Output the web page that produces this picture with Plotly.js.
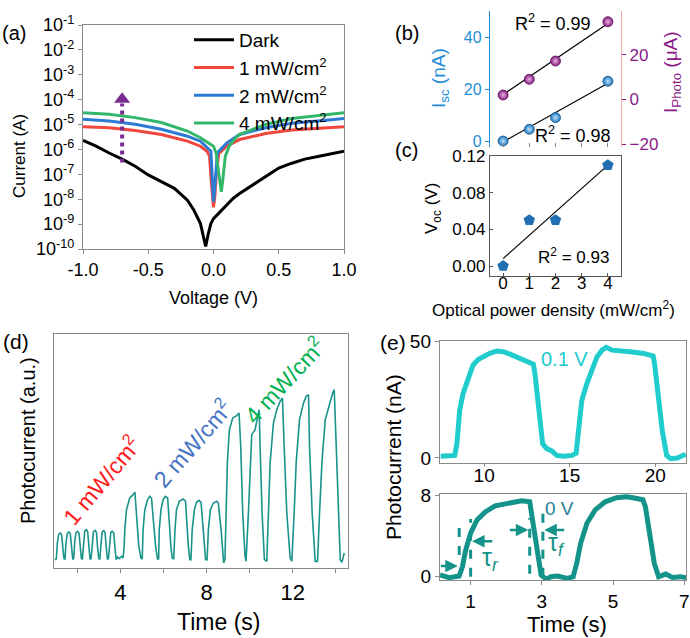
<!DOCTYPE html>
<html><head><meta charset="utf-8">
<script src="https://cdn.plot.ly/plotly-3.0.1.min.js"></script>
<style>html,body{margin:0;padding:0;background:#fff}#plot{width:690px;height:638px}</style>
</head><body><div id="plot"></div>
<script>
// ---------- (a) I-V curves ----------
const vDark = [-1.0,-0.9,-0.8,-0.7,-0.6,-0.5,-0.4,-0.3,-0.2,-0.15,-0.1,-0.08,-0.06,-0.04,-0.02,0,0.05,0.1,0.15,0.2,0.3,0.4,0.5,0.6,0.7,0.8,0.9,1.0];
const iDark = [2.3e-6,1.35e-6,7.2e-7,4.1e-7,2.1e-7,9.5e-8,5.1e-8,2.75e-8,9.1e-9,3.6e-9,1.05e-9,4.1e-10,1.26e-10,4.1e-10,1.05e-9,1.66e-9,3.1e-9,5.75e-9,1.07e-8,1.7e-8,3.7e-8,8.1e-8,1.78e-7,2.8e-7,4.1e-7,5.25e-7,6.8e-7,8.5e-7];
const v1 = [-1,-0.8,-0.6,-0.4,-0.2,-0.1,-0.05,-0.03,-0.02,-0.01,0,0.01,0.02,0.04,0.1,0.2,0.4,0.6,0.8,1.0];
const i1 = [8.1e-6,7.4e-6,5.75e-6,4.0e-6,2.15e-6,1.35e-6,8.5e-7,5.25e-7,8.1e-8,1.7e-8,4.7e-9,1.26e-8,8.1e-8,6.8e-7,1.35e-6,2.5e-6,4.4e-6,6.0e-6,7.1e-6,8.1e-6];
const v2 = [-1,-0.8,-0.6,-0.4,-0.2,-0.1,-0.02,-0.01,0,0.01,0.02,0.03,0.1,0.2,0.4,0.6,0.8,1.0];
const i2 = [1.62e-5,1.38e-5,1.02e-5,6.5e-6,3.4e-6,2.15e-6,8.5e-7,1.12e-7,7.9e-9,3.2e-8,2.1e-7,7.2e-7,1.8e-6,4.0e-6,7.4e-6,1.12e-5,1.38e-5,1.74e-5];
const v4 = [-1,-0.8,-0.6,-0.4,-0.2,-0.1,0,0.02,0.04,0.06,0.07,0.09,0.12,0.17,0.2,0.4,0.6,0.8,1.0];
const i4 = [3.0e-5,2.57e-5,1.9e-5,1.2e-5,5.5e-6,2.95e-6,1.35e-6,7.2e-7,1.12e-7,2.0e-8,5.1e-8,5.25e-7,1.35e-6,2.95e-6,4.0e-6,1.02e-5,1.74e-5,2.34e-5,3.0e-5];
const seriesNames = ['Dark','1 mW/cm<sup>2</sup>','2 mW/cm<sup>2</sup>','4 mW/cm<sup>2</sup>'];
const logTickVals = [1e-10,1e-9,1e-8,1e-7,1e-6,1e-5,1e-4,1e-3,1e-2,1e-1];
const logTickText = ['10<sup>-10</sup>','10<sup>-9</sup>','10<sup>-8</sup>','10<sup>-7</sup>','10<sup>-6</sup>','10<sup>-5</sup>','10<sup>-4</sup>','10<sup>-3</sup>','10<sup>-2</sup>','10<sup>-1</sup>'];
const vTickVals = [-1,-0.5,0,0.5,1];
const vTickText = ['-1.0','-0.5','0.0','0.5','1.0'];

// ---------- (b) Isc, Iphoto ; (c) Voc ----------
const power = [0,1,2,4];
const isc = [0,4.5,9,23];
const iphoto = [2,9,17.2,34.8];
const fitX = [0,4];
const iscFit = [-0.3,22.2];
const iphotoFit = [2.2,34.0];
const voc = [0,0.05,0.05,0.11];
const vocFit = [0.008,0.11];

// ---------- (d) photocurrent vs time ----------
const tD = [0.95,
1.023,1.07,1.132,1.209,1.271,1.333,1.38,
1.426,1.473,1.535,1.612,1.674,1.736,1.783,
1.829,1.876,1.938,2.015,2.077,2.139,2.186,
2.233,2.28,2.342,2.419,2.481,2.543,2.59,
2.636,2.683,2.745,2.822,2.884,2.946,2.993,
3.039,3.086,3.148,3.225,3.287,3.349,3.396,
3.442,3.489,3.551,3.628,3.69,3.752,3.80,
3.87,3.95,4.05,4.12,
4.17,4.20,4.28,4.43,4.59,4.67,4.74,4.85,4.95,
5.01,5.05,5.13,5.26,5.36,5.44,5.52,5.63,5.72,
5.77,5.80,5.88,5.98,6.09,6.19,6.25,6.34,6.40,
6.47,6.53,6.60,6.73,6.84,6.91,7.02,7.07,7.15,7.22,
7.27,7.33,7.43,7.53,7.64,7.74,7.80,7.89,7.95,
8.02,8.08,8.17,8.31,8.47,8.54,8.67,8.73,8.79,8.85,
8.899,8.961,9.054,9.209,9.395,9.504,9.581,9.674,9.783,9.829,
9.938,10.015,10.093,10.248,10.356,10.434,10.48,10.573,10.682,10.79,
10.868,10.945,11.1,11.255,11.41,11.519,11.596,11.72,11.875,11.953,
12.061,12.154,12.309,12.495,12.619,12.728,12.774,12.898,13.038,
13.146,13.239,13.348,13.503,13.704,13.859,13.921,13.983,14.076,14.2,14.278,14.387];
const iD = [1.0,
1.2,6,8.6,9.0,8.4,4,1.3,
1.2,6.2,8.9,9.3,8.7,4,1.2,
1.3,6.3,9.1,9.5,8.9,4.2,1.3,
1.2,6.5,9.6,10.0,9.3,4.3,1.2,
1.3,6.4,9.4,9.8,9.2,4.1,1.3,
1.2,6.3,9.3,9.7,9.1,4,1.2,
1.3,6.2,9.2,9.5,8.9,4,1.0,
1.8,1.3,2.0,1.5,
5,10,16,19.5,20.5,21.2,15,5,1.5,
1.2,10,16,19,20,19.5,13,5,1.2,
1.2,10,16,19,20,19.5,13,5,1.5,
1.2,10,16,18.5,19,19.2,18.5,13,5,1,
1,10,16,18.2,18.8,18.2,13,5,1,
1,10,16,18,18.5,18,10,5,0,1.2,
15,30,40,43.5,44.2,45,35,15,2,0.5,
15,30,38.5,40,44,46,35,15,1,0.5,
15,30,42,46,48.5,49.5,35,15,1.5,0.5,
15,30,43,48,50,50.5,35,15,0.5,
0.5,15,30,43,48,51.2,52,40,20,1,0.2,3];
const dTickVals = [2,4,6,8,10,12,14];
const dTickText = ['','4','','8','','12',''];

// ---------- (e) response at 0.1 V and 0 V ----------
const tE1 = [7.46,8.28,8.41,8.57,8.77,9.06,9.35,9.65,9.94,10.33,10.72,11.12,11.51,12.0,12.49,12.88,12.97,13.11,13.27,13.42,13.66,13.95,14.25,14.64,15.13,15.38,15.52,15.71,16.01,16.3,16.6,16.89,17.14,17.48,17.96,18.55,19.33,19.88,19.96,20.16,20.41,20.67,20.9,21.29,21.78];
const iE1 = [0.7,1.1,6.1,20.4,27.6,34,39.7,42.1,43.3,44.7,45.7,45.4,44.4,43,41.6,40.1,36.1,26.1,14.7,6.1,4,3,1.1,0.7,1.1,2.1,11.9,24.7,31.9,38.3,43.3,46.1,47.3,46.1,45.9,45.4,44.7,43.6,40.4,26.1,11.9,1.1,-0.3,0,1.6];
const tE2 = [0.14,0.40,0.68,0.77,0.86,1.0,1.18,1.41,1.69,2.06,2.43,2.66,2.71,2.80,2.89,2.98,3.12,3.26,3.44,3.72,3.88,3.98,4.09,4.27,4.50,4.78,5.10,5.38,5.56,5.84,5.91,6.02,6.16,6.28,6.48,6.67,6.90,7.05];
const iE2 = [0.17,-0.1,0.07,1,2.6,4.3,5.6,6.4,7.0,7.3,7.5,7.4,6.3,4,1.65,0.17,-0.26,0,0.07,-0.17,0,1.3,3.3,5.3,6.6,7.4,7.8,7.9,7.8,7.6,6.9,4.3,1.3,0,0.26,-0.07,0,-0.1];

// ---------- traces ----------
const ivColors = ['#000000','#f0463c','#2b7bd4','#33b86b'];
const traces = [
  {x:vDark,y:iDark,name:seriesNames[0],mode:'lines',line:{color:ivColors[0],width:3},xaxis:'x',yaxis:'y'},
  {x:v1,y:i1,name:seriesNames[1],mode:'lines',line:{color:ivColors[1],width:3},xaxis:'x',yaxis:'y'},
  {x:v2,y:i2,name:seriesNames[2],mode:'lines',line:{color:ivColors[2],width:3},xaxis:'x',yaxis:'y'},
  {x:v4,y:i4,name:seriesNames[3],mode:'lines',line:{color:ivColors[3],width:3},xaxis:'x',yaxis:'y'},
  // arrow in (a)
  {x:[-0.7,-0.7],y:[3.0e-7,7.0e-5],mode:'lines',line:{color:'#7a2d90',width:4,dash:'dot'},showlegend:false,xaxis:'x',yaxis:'y',hoverinfo:'skip'},
  {x:[-0.7],y:[1.05e-4],mode:'markers',marker:{symbol:'triangle-up',size:14,color:'#7a2d90'},showlegend:false,xaxis:'x',yaxis:'y',hoverinfo:'skip'},
  // (b)
  {x:fitX,y:iscFit,mode:'lines',line:{color:'#000',width:1.2},showlegend:false,xaxis:'x2',yaxis:'y2'},
  {x:power,y:isc,mode:'markers',marker:{size:10,color:'#1f78c0',gradient:{type:'radial',color:'#bfe2fb'},line:{color:'#17588c',width:0.8}},showlegend:false,xaxis:'x2',yaxis:'y2'},
  {x:fitX,y:iphotoFit,mode:'lines',line:{color:'#000',width:1.2},showlegend:false,xaxis:'x2',yaxis:'y3'},
  {x:power,y:iphoto,mode:'markers',marker:{size:10,color:'#861a7e',gradient:{type:'radial',color:'#e7b5e3'},line:{color:'#5e1058',width:0.8}},showlegend:false,xaxis:'x2',yaxis:'y3'},
  // (c)
  {x:fitX,y:vocFit,mode:'lines',line:{color:'#000',width:1.2},showlegend:false,xaxis:'x4',yaxis:'y4'},
  {x:power,y:voc,mode:'markers',marker:{symbol:'pentagon',size:12,color:'#1f6fb2'},showlegend:false,xaxis:'x4',yaxis:'y4'},
  // (d)
  {x:tD,y:iD,mode:'lines',line:{color:'#1a938a',width:1.6},showlegend:false,xaxis:'x5',yaxis:'y5'},
  // (e)
  {x:tE1,y:iE1,mode:'lines',line:{color:'#20cccc',width:5},showlegend:false,xaxis:'x6',yaxis:'y6'},
  {x:tE2,y:iE2,mode:'lines',line:{color:'#14938a',width:5},showlegend:false,xaxis:'x7',yaxis:'y7'}
];

const FONT = 'Liberation Sans, Arial, sans-serif';
const GREY = '#8a8a8a';
function ax(extra){
  return Object.assign({showline:true,linecolor:GREY,linewidth:1.2,mirror:true,ticks:'outside',ticklen:4,tickcolor:GREY,
    showgrid:false,zeroline:false,tickfont:{size:16,color:'#000',family:FONT},fixedrange:true}, extra);
}
const tf = s => ({size:s,color:'#000',family:FONT});
const px = v => v/690, py = v => 1 - v/638;

const teal = '#14938a';
const annotations = [
  // panel labels
  {text:'(a)',x:px(14),y:py(33),font:{size:20}},
  {text:'(b)',x:px(407),y:py(33),font:{size:20}},
  {text:'(c)',x:px(406),y:py(150),font:{size:20}},
  {text:'(d)',x:px(16),y:py(341),font:{size:21}},
  {text:'(e)',x:px(393),y:py(342),font:{size:21}},
  // axis titles
  {text:'Current (A)',x:px(20),y:py(156),textangle:-90,font:{size:17}},
  {text:'Voltage (V)',x:px(213),y:py(298),font:{size:18}},
  {text:'I<sub>sc</sub> (nA)',x:px(440),y:py(78),textangle:-90,font:{size:19,color:'#1f8dd6'}},
  {text:'I<sub>Photo</sub> (μA)',x:px(672),y:py(72),textangle:-90,font:{size:19,color:'#8b1a89'}},
  {text:'V<sub>oc</sub> (V)',x:px(433),y:py(209),textangle:-90,font:{size:17}},
  {text:'Optical power density (mW/cm<sup>2</sup>)',x:px(553),y:py(309),font:{size:17}},
  {text:'Photocurrent (a.u.)',x:px(28),y:py(441),textangle:-90,font:{size:20}},
  {text:'Time (s)',x:px(218),y:py(622),font:{size:23}},
  {text:'Photocurrent (nA)',x:px(393),y:py(457),textangle:-90,font:{size:21}},
  {text:'Time (s)',x:px(567),y:py(624),font:{size:22}},
  // R2
  {text:'R<sup>2</sup> = 0.99',x:1.89,y:45.4,xref:'x2',yref:'y2',font:{size:18}},
  {text:'R<sup>2</sup> = 0.98',x:2.68,y:2.4,xref:'x2',yref:'y2',font:{size:18}},
  {text:'R<sup>2</sup> = 0.93',x:2.68,y:0.011,xref:'x4',yref:'y4',font:{size:17}},
  // (d) labels
  {text:'1 mW/cm<sup>2</sup>',x:px(101),y:py(480),textangle:-50,font:{size:23,color:'#ff1a1a'}},
  {text:'2 mW/cm<sup>2</sup>',x:px(192),y:py(443),textangle:-49,font:{size:23,color:'#4472c4'}},
  {text:'4 mW/cm<sup>2</sup>',x:px(284),y:py(380),textangle:-47,font:{size:23,color:'#00b050'}},
  // (e)
  {text:'0.1 V',x:14.68,y:42.3,xref:'x6',yref:'y6',font:{size:20,color:'#20cccc'}},
  {text:'0 V',x:3.49,y:6.7,xref:'x7',yref:'y7',font:{size:19,color:'#2a7f95'}},
  {text:'τ<sub><i>r</i></sub>',x:1.55,y:1.7,xref:'x7',yref:'y7',font:{size:25,color:teal}},
  {text:'τ<sub><i>f</i></sub>',x:3.42,y:3.2,xref:'x7',yref:'y7',font:{size:25,color:teal}},
  // arrows
  {text:'',x:0.64,y:1.06,ax:0.12,ay:1.06,axref:'x7',ayref:'y7',xref:'x7',yref:'y7',showarrow:true,arrowhead:2,arrowsize:1,arrowwidth:2.5,arrowcolor:teal},
  {text:'',x:1.04,y:3.5,ax:1.65,ay:3.5,axref:'x7',ayref:'y7',xref:'x7',yref:'y7',showarrow:true,arrowhead:2,arrowsize:1,arrowwidth:2.5,arrowcolor:teal},
  {text:'',x:2.62,y:4.6,ax:2.06,ay:4.6,axref:'x7',ayref:'y7',xref:'x7',yref:'y7',showarrow:true,arrowhead:2,arrowsize:1,arrowwidth:2.5,arrowcolor:teal},
  {text:'',x:3.07,y:4.6,ax:3.67,ay:4.6,axref:'x7',ayref:'y7',xref:'x7',yref:'y7',showarrow:true,arrowhead:2,arrowsize:1,arrowwidth:2.5,arrowcolor:teal}
].map(a => Object.assign({xref:'paper',yref:'paper',showarrow:false,xanchor:'center',yanchor:'middle'}, a,
   {font:Object.assign({family:FONT,color:'#000'}, a.font)}));

const dash = {color:teal,width:3,dash:'dash'};
const shapes = [
  {type:'line',xref:'x7',yref:'y7',x0:0.68,x1:0.68,y0:2.15,y1:5.5,line:dash},
  {type:'line',xref:'x7',yref:'y7',x0:1.0,x1:1.0,y0:0,y1:5.7,line:dash},
  {type:'line',xref:'x7',yref:'y7',x0:2.66,x1:2.66,y0:0.3,y1:5.8,line:dash},
  {type:'line',xref:'x7',yref:'y7',x0:3.03,x1:3.03,y0:0,y1:6.3,line:dash}
];

const layout = {
  width:690,height:638,margin:{l:0,r:0,t:0,b:0},
  paper_bgcolor:'#fff',plot_bgcolor:'rgba(0,0,0,0)',
  font:{family:FONT,color:'#000'},
  showlegend:true,
  legend:{x:px(189),y:py(21),xanchor:'left',yanchor:'top',bgcolor:'rgba(0,0,0,0)',font:{size:19,family:FONT},tracegroupgap:0,itemwidth:40},
  xaxis:ax({domain:[px(83),px(344)],anchor:'y',range:[-1,1],tickvals:vTickVals,ticktext:vTickText,tickfont:tf(18)}),
  yaxis:ax({domain:[py(249),py(25)],anchor:'x',type:'log',range:[-10,-1],tickvals:logTickVals,ticktext:logTickText,tickfont:tf(18)}),
  xaxis2:ax({domain:[px(490),px(621)],anchor:'y2',range:[-0.5,4.5],tickvals:[0,1,2,3,4],showticklabels:false,showline:false,mirror:false,ticks:'inside'}),
  yaxis2:ax({domain:[py(147),py(11)],anchor:'x2',range:[-2.3,50],tickvals:[0,20,40],mirror:false,linecolor:'#1f8dd6',tickcolor:'#1f8dd6',tickfont:{size:16,color:'#1f8dd6',family:FONT}}),
  yaxis3:ax({overlaying:'y2',side:'right',anchor:'x2',range:[-21.3,39.6],tickvals:[-20,0,20,40],mirror:false,linecolor:'#f4a9a0',tickcolor:'#8b1a89',tickfont:{size:17,color:'#8b1a89',family:FONT}}),
  xaxis4:ax({domain:[px(490),px(621)],anchor:'y4',range:[-0.5,4.5],tickvals:[0,1,2,3,4],linecolor:'#555',tickcolor:'#555',ticks:'inside',ticklen:3,ticklabelstandoff:-9,tickfont:tf(17)}),
  yaxis4:ax({domain:[py(276),py(156)],anchor:'x4',range:[-0.0109,0.12],tickvals:[0,0.04,0.08,0.12],ticktext:['0.00','0.04','0.08','0.12'],linecolor:'#555',tickcolor:'#555',ticks:'inside',ticklen:3,tickfont:tf(17)}),
  xaxis5:ax({domain:[px(54),px(348)],anchor:'y5',range:[0.915,14.56],tickvals:dTickVals,ticktext:dTickText,tickfont:tf(22)}),
  yaxis5:ax({domain:[py(568),py(334)],anchor:'x5',range:[-1.5,68.7],showticklabels:false,ticks:''}),
  xaxis6:ax({domain:[px(440),px(686)],anchor:'y6',range:[7.42,21.8],tickvals:[10,15,20],ticklen:3,ticklabelstandoff:-8,tickfont:tf(19)}),
  yaxis6:ax({domain:[py(463),py(341)],anchor:'x6',range:[-2.14,50],tickvals:[0,50],tickfont:tf(19)}),
  xaxis7:ax({domain:[px(440),px(686)],anchor:'y7',range:[0.14,7.05],tickvals:[1,3,5,7],tickfont:tf(19)}),
  yaxis7:ax({domain:[py(580),py(494)],anchor:'x7',range:[-0.33,8.17],tickvals:[0,8],tickfont:tf(19)}),
  annotations:annotations,
  shapes:shapes
};
Plotly.newPlot('plot',traces,layout,{staticPlot:true,displayModeBar:false});
</script></body></html>
